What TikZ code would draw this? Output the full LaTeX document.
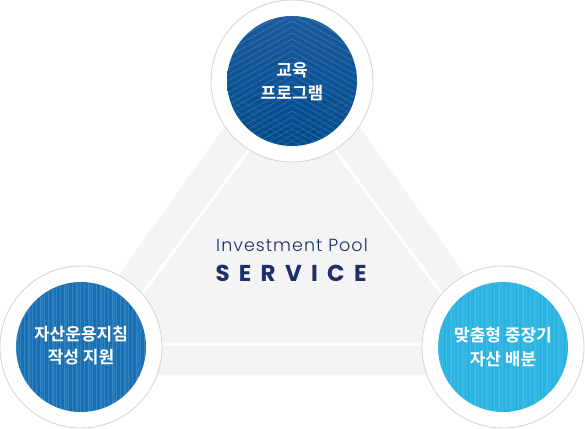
\documentclass[tikz,border=0pt]{standalone}
\usepackage{fontspec}
\newfontfamily\kr{Noto Sans CJK KR}[BoldFont={Noto Sans CJK KR Bold}]
\newfontfamily\pop{Poppins}
\newfontfamily\popl{Poppins Light}
\definecolor{tri}{HTML}{F4F4F4}
\definecolor{ring}{HTML}{D6D6D6}
\definecolor{navy}{HTML}{1C2F6B}
\definecolor{topA}{HTML}{1A5C9E}
\definecolor{topB}{HTML}{004A8C}
\definecolor{leftblue}{HTML}{1670B6}
\definecolor{rightblue}{HTML}{23B4E3}
\tikzset{
  outer/.style={circle, minimum size=162pt, inner sep=0pt, fill=white, draw=ring, line width=0.9pt},
  label/.style={align=center, text=white, font=\kr\bfseries\fontsize{17}{23.5}\selectfont},
  stripe/.style={white, opacity=0.13, line width=0.9pt},
  chev/.style={white, opacity=0.15, line width=0.8pt}
}
\begin{document}
\begin{tikzpicture}[x=1pt,y=-1pt]
\useasboundingbox (0,0) rectangle (585,428);
% triangle
\fill[tri] (292,33) -- (47,375) -- (537,375) -- cycle;
\draw[white, line width=3pt, line join=miter] (292,92) -- (105,344) -- (479,344) -- cycle;
% outer rings
\node[outer] (top) at (292,81) {};
\node[outer] (left) at (81,347) {};
\node[outer] (right) at (503,347) {};
% top inner
\begin{scope}
  \clip (292,81) circle (65pt);
  \shade[top color=topA, bottom color=topB] (227,16) rectangle (357,146);
  \foreach \k in {-90,-84,...,84} {
    \draw[chev] (202,81+\k+50) -- (292,81+\k) -- (382,81+\k+50);
  }
  \foreach \k in {0,6,...,24} {
    \draw[chev, opacity=0.08] (222,81+\k+10) -- (292,81+\k+48) -- (362,81+\k+10);
  }
\end{scope}
% left inner
\begin{scope}
  \clip (81,347) circle (65pt);
  \fill[leftblue] (16,282) rectangle (146,412);
  \foreach \x in {16,20,...,146} {
    \draw[stripe] (\x,282) -- (\x,412);
  }
  \foreach \x in {18,30,...,146} {
    \draw[stripe, opacity=0.08, line width=1.6pt] (\x,282) -- (\x,412);
  }
\end{scope}
% right inner
\begin{scope}
  \clip (503,347) circle (65pt);
  \fill[rightblue] (438,282) rectangle (568,412);
  \foreach \x in {438,442,...,568} {
    \draw[stripe] (\x,282) -- (\x,412);
  }
  \foreach \x in {440,452,...,568} {
    \draw[stripe, opacity=0.08, line width=1.6pt] (\x,282) -- (\x,412);
  }
\end{scope}
% labels
\node[label] (toptext) at (292,81.5) {교육\\프로그램};
\node[label] (lefttext) at (81,345.5) {자산운용지침\\작성 지원};
\node[label] (righttext) at (503,347) {맞춤형 중장기\\자산 배분};
% center text
\node[text=navy, font=\popl\fontsize{17.5}{19}\selectfont\addfontfeature{LetterSpace=6}, anchor=base, inner sep=0pt] (inv) at (292,251) {Investment Pool};
\node[text=navy, font=\pop\bfseries\fontsize{23}{25}\selectfont, anchor=base, inner sep=0pt] (svc) at (291,281)
  {\makebox[151pt][s]{S\hfill E\hfill R\hfill V\hfill I\hfill C\hfill E}};
\end{tikzpicture}
\end{document}
